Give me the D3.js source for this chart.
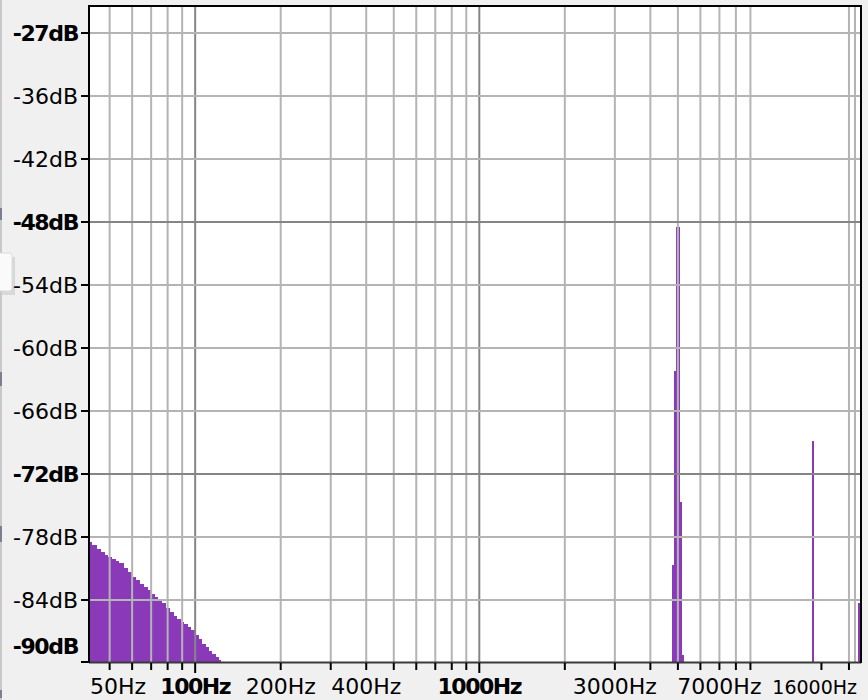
<!DOCTYPE html>
<html><head><meta charset="utf-8">
<script src="https://cdn.jsdelivr.net/npm/d3@7"></script>
<style>
body{margin:0;background:#f0f0f0;overflow:hidden}
svg{display:block}
text{font-family:"DejaVu Sans",Verdana,sans-serif;fill:#000}
</style></head>
<body><svg id="c" width="868" height="700"></svg>
<script>
// ---- data ----
const gridFreqs = [50,60,70,80,90,100,200,300,400,500,600,700,800,900,1000,2000,3000,4000,5000,6000,7000,8000,9000,20000,21000];
const majorFreqs = [100,1000];
const tickFreqs = [50,60,70,80,90,100,200,300,400,500,600,700,800,900,1000,2000,3000,4000,5000,6000,7000,8000,9000,16000,20000];
const labelFreqs = [50,100,200,400,1000,3000,7000,16000];
const labelFreqTexts = ["50Hz","100Hz","200Hz","400Hz","1000Hz","3000Hz","7000Hz","16000Hz"];
const boldFreqs = [100,1000];
const smallFreqs = [16000];

const dbTicks = [-30,-36,-42,-48,-54,-60,-66,-72,-78,-84,-90];
const dbLabels = ["-27dB","-36dB","-42dB","-48dB","-54dB","-60dB","-66dB","-72dB","-78dB","-84dB","-90dB"];
const dbMajor = [-48,-72];
const dbBold = ["-27dB","-48dB","-72dB","-90dB"];

// low-frequency noise floor (bin edges in Hz, level in dB)
const lowEdges = [42,43.5,45,46.5,48,49.5,51,52.5,54,56,58,60,62,64,66,68,70,72,74,76.5,79,81.5,84,86.5,89,91.5,94,97,100,103,106,109,112,115,118,121,123];
const lowDb = [-78.5,-78.76,-79.1,-79.43,-79.67,-79.9,-80.14,-80.33,-80.52,-80.95,-81.33,-81.81,-82.1,-82.43,-82.73,-83.05,-83.43,-83.67,-83.9,-84.29,-84.76,-85.19,-85.52,-85.81,-86.05,-86.33,-86.57,-86.86,-87.33,-87.71,-88.19,-88.52,-88.81,-89.14,-89.43,-89.67];
// tone near 5 kHz
const toneEdges = [4781,4860,4940,5102,5185,5270];
const toneDb = [-80.7,-62.2,-48.45,-74.7,-89.2];
// isolated components
const spurStart = [14880,21600];
const spurEnd = [15120,22050];
const spurDb = [-68.86,-84.26];

// ---- layout ----
const L = 89, R = 861, T = 6, B = 663;
const x = d3.scaleLog().domain([42.3, 22050]).range([L, R]);
const y = d3.scaleLinear().domain([-90, -27.43]).range([B, T]);

const bins = [];
lowDb.forEach((v,i)=>bins.push({f0:lowEdges[i], f1:lowEdges[i+1], db:v}));
toneDb.forEach((v,i)=>bins.push({f0:toneEdges[i], f1:toneEdges[i+1], db:v}));
spurDb.forEach((v,i)=>bins.push({f0:spurStart[i], f1:spurEnd[i], db:v}));

const svg = d3.select("#c");
svg.append("rect").attr("width",868).attr("height",700).attr("fill","#f0f0f0");

// window-edge decoration
svg.append("rect").attr("x",0).attr("y",0).attr("width",2).attr("height",700).attr("fill","#c8c8c8");
[[208,12],[372,14],[526,16],[690,8]].forEach(s=>svg.append("rect").attr("x",0).attr("y",s[0]).attr("width",2).attr("height",s[1]).attr("fill","#7a8090"));
svg.append("rect").attr("x",2).attr("y",257).attr("width",13).attr("height",38).attr("fill","#c8c8c8").attr("opacity",0.6);
svg.append("rect").attr("x",-4).attr("y",253).attr("width",16).attr("height",38).attr("rx",3).attr("fill","#fafafa").attr("stroke","#dcdcdc");

svg.append("defs").append("clipPath").attr("id","clip")
  .append("rect").attr("x",L).attr("y",T).attr("width",R-L).attr("height",B-T);

svg.append("rect").attr("x",L).attr("y",T).attr("width",R-L).attr("height",B-T).attr("fill","#ffffff");

const plot = svg.append("g").attr("clip-path","url(#clip)");

// bars
plot.append("g").selectAll("rect").data(bins).join("rect")
  .attr("x",d=>Math.round(x(d.f0)))
  .attr("width",d=>Math.max(1, Math.round(x(d.f1))-Math.round(x(d.f0))))
  .attr("y",d=>Math.round(y(d.db))).attr("height",d=>Math.round(y(-90))-Math.round(y(d.db)))
  .attr("fill","#8a3ab9").attr("shape-rendering","crispEdges");

// grid
plot.append("g").selectAll("line").data(gridFreqs).join("line")
  .attr("x1",d=>x(d)).attr("x2",d=>x(d)).attr("y1",T).attr("y2",B)
  .attr("stroke",d=>majorFreqs.includes(d)?"#858585":"#b4b4b4").attr("stroke-width",2);
plot.append("g").selectAll("line").data(dbTicks.filter(d=>d>-90)).join("line")
  .attr("x1",L).attr("x2",R).attr("y1",d=>y(d)).attr("y2",d=>y(d))
  .attr("stroke",d=>dbMajor.includes(d)?"#858585":"#b4b4b4").attr("stroke-width",2);

// frame
svg.append("line").attr("x1",L).attr("x2",R).attr("y1",B-0.5).attr("y2",B-0.5).attr("stroke","#3a3a3a").attr("stroke-width",2);
svg.append("line").attr("x1",L).attr("x2",L).attr("y1",T-1).attr("y2",B).attr("stroke","#000").attr("stroke-width",2);
svg.append("line").attr("x1",L).attr("x2",R+1).attr("y1",T).attr("y2",T).attr("stroke","#000").attr("stroke-width",2);
svg.append("line").attr("x1",R).attr("x2",R).attr("y1",T-1).attr("y2",B).attr("stroke","#000").attr("stroke-width",2);

// y ticks & labels
svg.append("g").selectAll("line").data(dbTicks).join("line")
  .attr("x1",81).attr("x2",L).attr("y1",d=>d===-90?B-1:y(d)).attr("y2",d=>d===-90?B-1:y(d))
  .attr("stroke","#000").attr("stroke-width",2);
svg.append("g").selectAll("text").data(dbTicks).join("text")
  .attr("x",78)
  .attr("y",d=>Math.max(22, Math.min(646.5, y(d))))
  .attr("dy","0.36em")
  .attr("text-anchor","end")
  .attr("font-size",22)
  .text((d,i)=>dbLabels[i])
  .attr("font-weight",(d,i)=>dbBold.includes(dbLabels[i])?"bold":"normal")
  .attr("letter-spacing",(d,i)=>dbBold.includes(dbLabels[i])?"-1.4px":"0px");

// x ticks & labels
svg.append("g").selectAll("line").data(tickFreqs).join("line")
  .attr("x1",d=>x(d)).attr("x2",d=>x(d)).attr("y1",B).attr("y2",d=>majorFreqs.includes(d)?673:670)
  .attr("stroke","#000").attr("stroke-width",2);
const xl = svg.append("g").selectAll("text").data(labelFreqs).join("text")
  .attr("x",d=>x(d)).attr("y",694)
  .attr("text-anchor","middle")
  .attr("font-size",d=>smallFreqs.includes(d)?19:22)
  .attr("font-weight",d=>boldFreqs.includes(d)?"bold":"normal")
  .attr("letter-spacing",d=>boldFreqs.includes(d)?"-1.5px":"0px")
  .text((d,i)=>labelFreqTexts[i]);
xl.each(function(d){
  const w = this.getComputedTextLength();
  let cx = x(d);
  if (cx - w/2 < 90) cx = 90 + w/2;
  if (cx + w/2 > 857) cx = 857 - w/2;
  d3.select(this).attr("x",cx);
});
</script></body></html>
